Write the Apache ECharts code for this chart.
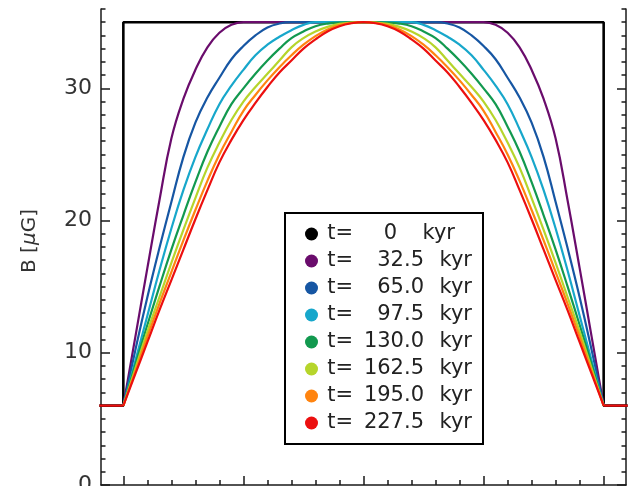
<!DOCTYPE html>
<html>
<head>
<meta charset="utf-8">
<script src="https://cdn.jsdelivr.net/npm/echarts@6/dist/echarts.min.js"></script>
<style>
  html, body { margin: 0; padding: 0; background: #fff; }
  #chart { width: 631px; height: 486px; }
</style>
</head>
<body>
<div id="chart"></div>
<script>
// Position along the profile (arbitrary units, shell spans 0..20)
const xGrid = [0,0.5,1,1.5,2,2.5,3,3.5,4,4.5,5,5.5,6,6.5,7,7.5,8,8.5,9,9.5,10,
               10.5,11,11.5,12,12.5,13,13.5,14,14.5,15,15.5,16,16.5,17,17.5,18,18.5,19,19.5,20];

// Initial top-hat field (t = 0)
const stepX = [-1, 0, 0, 20, 20, 21];
const stepB = [6, 6, 35, 35, 6, 6];

// Ambient field outside the shell
const baseX = [-1, 0, null, 20, 21];
const baseB = [6, 6, null, 6, 6];

// Field profiles B [uG] at later times
const b325 = [6,11.2,16.4,21.5,26.2,29.2,31.4,33.1,34.2,34.8,35,35,35,35,35,35,35,35,35,35,35,
              35,35,35,35,35,35,35,35,35,35,34.8,34.2,33.1,31.4,29.2,26.2,21.5,16.4,11.2,6];
const b650 = [6,10.2,14.2,17.9,21.4,24.8,27.4,29.3,30.8,32.2,33.2,34.0,34.6,34.9,35,35,35,35,35,35,35,
              35,35,35,35,35,35,34.9,34.6,34.0,33.2,32.2,30.8,29.3,27.4,24.8,21.4,17.9,14.2,10.2,6];
const b975 = [6,9.4,12.8,16.2,19.4,22.3,24.8,26.9,28.8,30.2,31.4,32.5,33.3,33.9,34.4,34.8,35,35,35,35,35,
              35,35,35,35,34.8,34.4,33.9,33.3,32.5,31.4,30.2,28.8,26.9,24.8,22.3,19.4,16.2,12.8,9.4,6];
const b1300 = [6,9.1,12.1,15.0,17.8,20.4,22.9,25.2,27.1,28.8,30.0,31.1,32.1,33.0,33.8,34.3,34.7,34.9,34.97,35,35,
               35,34.97,34.9,34.7,34.3,33.8,33.0,32.1,31.1,30.0,28.8,27.1,25.2,22.9,20.4,17.8,15.0,12.1,9.1,6];
const b1625 = [6,8.8,11.6,14.2,16.8,19.3,21.7,24.0,25.9,27.6,29.0,30.1,31.1,32.1,33.1,33.8,34.3,34.65,34.88,34.97,35,
               34.97,34.88,34.65,34.3,33.8,33.1,32.1,31.1,30.1,29.0,27.6,25.9,24.0,21.7,19.3,16.8,14.2,11.6,8.8,6];
const b1950 = [6,8.6,11.2,13.7,16.1,18.5,20.8,23.0,25.0,26.7,28.3,29.5,30.6,31.6,32.5,33.3,33.95,34.45,34.78,34.95,35,
               34.95,34.78,34.45,33.95,33.3,32.5,31.6,30.6,29.5,28.3,26.7,25.0,23.0,20.8,18.5,16.1,13.7,11.2,8.6,6];
const b2275 = [6,8.4,10.8,13.2,15.5,17.8,20.1,22.3,24.4,26.1,27.6,28.9,30.1,31.2,32.1,33.0,33.7,34.3,34.7,34.92,35,
               34.92,34.7,34.3,33.7,33.0,32.1,31.2,30.1,28.9,27.6,26.1,24.4,22.3,20.1,17.8,15.5,13.2,10.8,8.4,6];

// Legend labels (time in kyr) and colours
const times = ['0', '32.5', '65.0', '97.5', '130.0', '162.5', '195.0', '227.5'];
const colors = ['#000000', '#6a0c6c', '#1656a3', '#17a7cb', '#12994f', '#b6d52b', '#ff8410', '#ec0f0f'];
const profiles = [b325, b650, b975, b1300, b1625, b1950, b2275];

// Axis ticks
const yMajor = [0, 10, 20, 30];
const xMajor = [0, 5, 10, 15, 20];
const xMinor = [0,1,2,3,4,5,6,7,8,9,10,11,12,13,14,15,16,17,18,19,20];

const FONT = 'DejaVu Sans';
const zip = (xs, ys) => xs.map((x, i) => (x === null ? [null, null] : [x, ys[i]]));

const names = times.map(t => 't=' + t);

const series = [];
series.push({
  name: names[0], type: 'line', data: zip(stepX, stepB),
  symbol: 'none', lineStyle: { color: colors[0], width: 2.6 }, itemStyle: { color: colors[0] },
  animation: false
});
profiles.forEach((p, i) => {
  series.push({
    name: names[i + 1], type: 'line', data: zip(xGrid, p),
    smooth: 0.45, symbol: 'none',
    lineStyle: { color: colors[i + 1], width: 2.2 }, itemStyle: { color: colors[i + 1] },
    animation: false
  });
});
series.push({
  name: 'ambient', type: 'line', data: zip(baseX, baseB), connectNulls: false,
  symbol: 'none', lineStyle: { color: colors[7], width: 2.4 }, itemStyle: { color: colors[7] },
  animation: false
});

const axisCol = '#1a1a1a';
const xBase = {
  type: 'value', min: -0.93, max: 20.93, position: 'bottom',
  axisLabel: { show: false }, splitLine: { show: false }
};
const yBase = { type: 'value', min: 0, max: 36, splitLine: { show: false } };

const option = {
  backgroundColor: '#fff',
  animation: false,
  grid: { left: 101, right: 5, top: 9, bottom: 1, outerBoundsMode: 'none', containLabel: false },
  legend: {
    data: names,
    orient: 'vertical',
    left: 285, top: 213,
    icon: 'circle',
    itemWidth: 13, itemHeight: 13,
    itemGap: 5,
    padding: [10, 11, 10, 20],
    borderColor: '#000', borderWidth: 2,
    backgroundColor: '#fff',
    selectedMode: false,
    formatter: name => {
      const t = name.slice(2);
      if (t === '0') return '{t|t=}{z|0}{kz|kyr}';
      return '{t|t=}{n|' + t + '}{k|kyr}';
    },
    textStyle: {
      fontFamily: FONT, fontSize: 21, color: '#222', lineHeight: 22,
      rich: {
        t: { fontFamily: FONT, fontSize: 21, color: '#222', width: 30, align: 'right' },
        n: { fontFamily: FONT, fontSize: 21, color: '#222', width: 71, align: 'right' },
        k: { fontFamily: FONT, fontSize: 21, color: '#222', width: 48, align: 'right' },
        z: { fontFamily: FONT, fontSize: 21, color: '#222', width: 44, align: 'right' },
        kz: { fontFamily: FONT, fontSize: 21, color: '#222', width: 58, align: 'right' }
      }
    }
  },
  xAxis: [
    Object.assign({}, xBase, {
      axisLine: { onZero: false, lineStyle: { color: axisCol, width: 1.5 } },
      axisTick: { inside: true, length: 9, customValues: xMajor, lineStyle: { color: axisCol, width: 1.5 } }
    }),
    Object.assign({}, xBase, {
      axisLine: { show: false, onZero: false },
      axisTick: { inside: true, length: 5, customValues: xMinor, lineStyle: { color: axisCol, width: 1.5 } }
    })
  ],
  yAxis: [
    Object.assign({}, yBase, {
      position: 'left',
      axisLine: { onZero: false, lineStyle: { color: axisCol, width: 1.5 } },
      axisTick: { inside: true, length: 9, customValues: yMajor, lineStyle: { color: axisCol, width: 1.5 } },
      axisLabel: { customValues: yMajor, margin: 9, fontFamily: FONT, fontSize: 22, color: '#333' },
      name: 'B [{mu|\u03bc}G]',
      nameLocation: 'middle', nameGap: 61, nameRotate: 90,
      nameTextStyle: {
        fontFamily: FONT, fontSize: 20, color: '#333', padding: [0, 0, 0, 12],
        rich: { mu: { fontFamily: FONT, fontSize: 20, color: '#333', fontStyle: 'italic' } }
      }
    }),
    Object.assign({}, yBase, {
      position: 'left', interval: 1,
      axisLine: { show: false, onZero: false },
      axisTick: { inside: true, length: 4.5, lineStyle: { color: axisCol, width: 1.5 } },
      axisLabel: { show: false }
    }),
    Object.assign({}, yBase, {
      position: 'right',
      axisLine: { onZero: false, lineStyle: { color: axisCol, width: 1.5 } },
      axisTick: { inside: true, length: 9, customValues: yMajor, lineStyle: { color: axisCol, width: 1.5 } },
      axisLabel: { show: false }
    }),
    Object.assign({}, yBase, {
      position: 'right', interval: 1,
      axisLine: { show: false, onZero: false },
      axisTick: { inside: true, length: 4.5, lineStyle: { color: axisCol, width: 1.5 } },
      axisLabel: { show: false }
    })
  ],
  series: series
};

const chart = echarts.init(document.getElementById('chart'), null, { renderer: 'canvas' });
chart.setOption(option);
</script>
</body>
</html>
